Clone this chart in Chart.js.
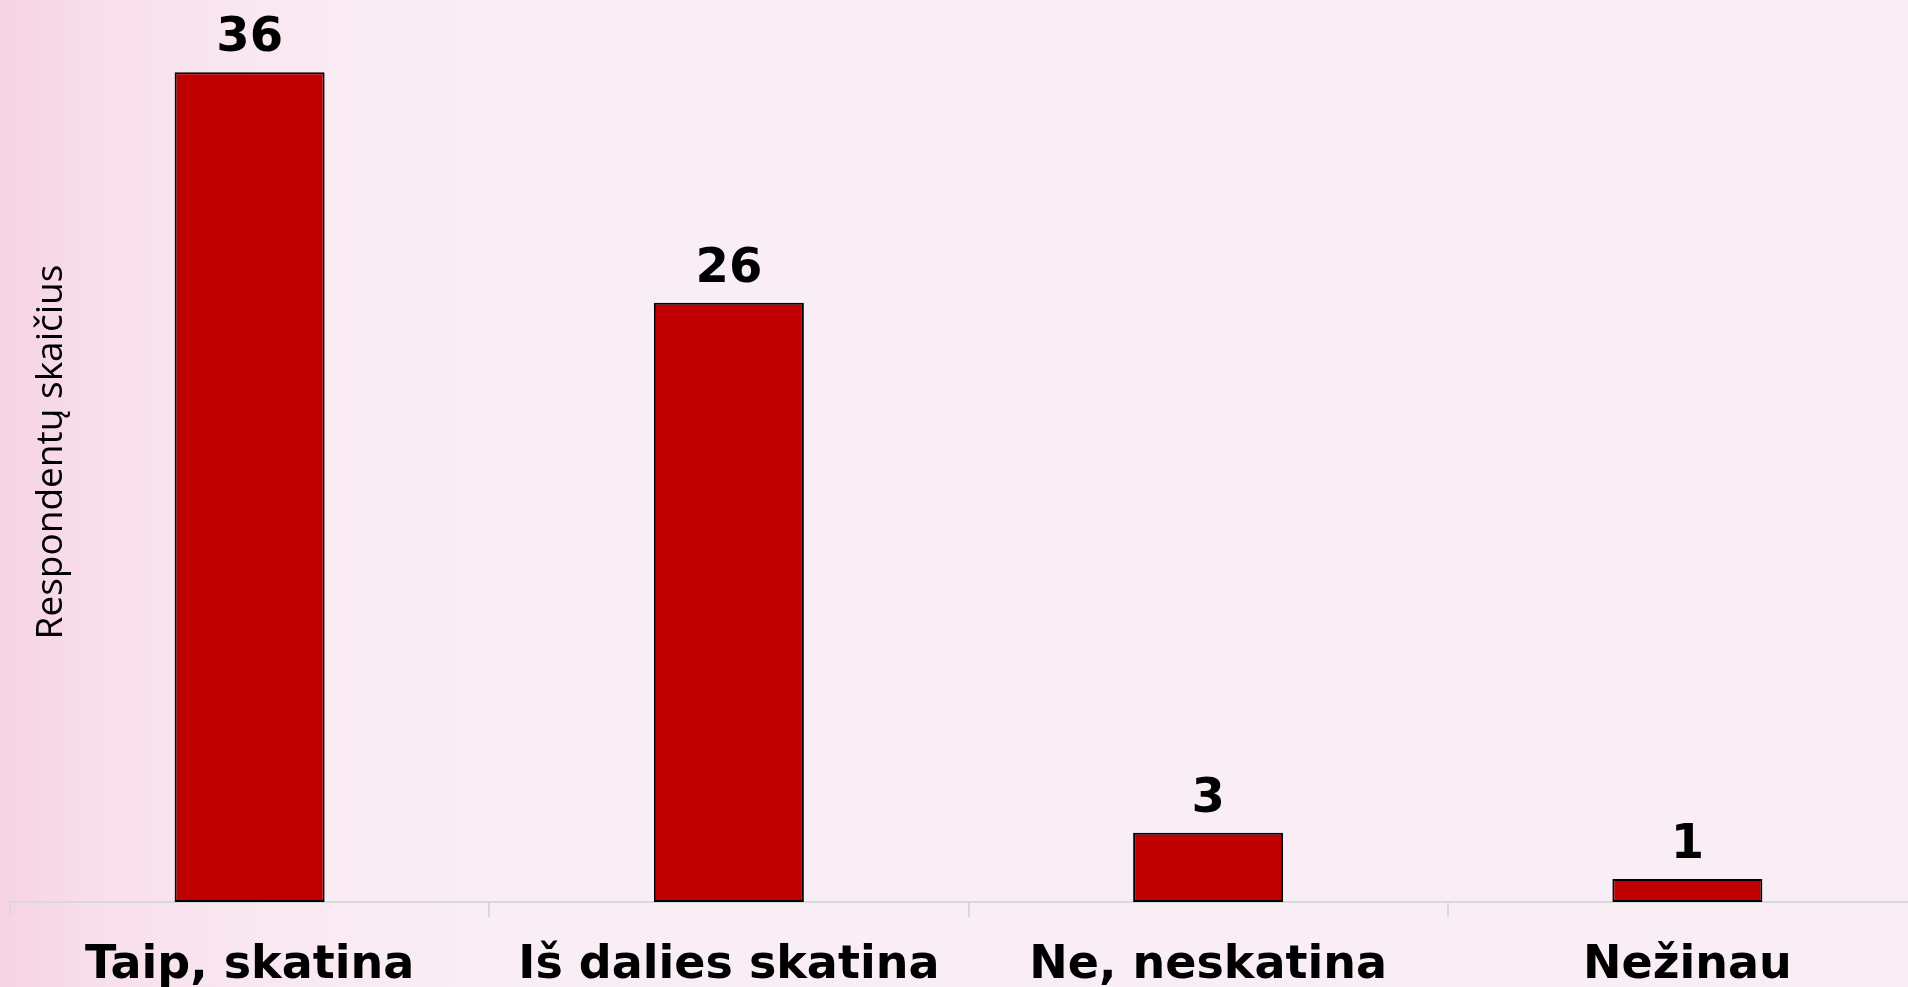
<!DOCTYPE html>
<html>
<head>
<meta charset="utf-8">
<script src="https://cdn.jsdelivr.net/npm/chart.js@4/dist/chart.umd.min.js"></script>
<style>
  html, body { margin: 0; padding: 0; overflow: hidden; }
  body {
    width: 1908px; height: 987px;
    background: linear-gradient(90deg, #f6d3e4 0px, #f8e0ec 110px, #f9e9f2 300px, #f9eef6 480px);
  }
  canvas { display: block; }
</style>
</head>
<body>
<canvas id="chart" width="1927" height="987"></canvas>
<script>
const categories = ["Taip, skatina", "Iš dalies skatina", "Ne, neskatina", "Nežinau"];
const respondents = [36, 26, 3, 1];
const yTitle = "Respondentų skaičius";

// value labels above bars + rotated y title
const extraText = {
    id: 'extraText',
    afterDatasetsDraw(chart) {
        const ctx = chart.ctx;
        ctx.save();
        ctx.fillStyle = '#000';
        ctx.textAlign = 'center';
        ctx.textBaseline = 'alphabetic';
        ctx.font = 'bold 48px "DejaVu Sans"';
        chart.getDatasetMeta(0).data.forEach((bar, i) => {
            ctx.fillText(respondents[i], bar.x, bar.y - 21);
        });
        ctx.translate(62, 452);
        ctx.rotate(-Math.PI / 2);
        ctx.font = '37px "Open Sans"';
        ctx.fillText(yTitle, 0, 0);
        ctx.restore();
    }
};

new Chart(document.getElementById('chart'), {
    type: 'bar',
    data: {
        labels: categories,
        datasets: [
            { label: yTitle,
              data: respondents,
              backgroundColor: '#c00000',
              borderColor: '#000',
              borderWidth: 2,
              borderSkipped: false,
              barPercentage: 0.313,
              categoryPercentage: 1
            }
        ]
    },
    options: {
        responsive: false,
        animation: false,
        layout: {
            padding: { left: 10, top: 3, right: 0, bottom: 0 }
        },
        plugins: {
            legend: { display: false },
            tooltip: { enabled: false }
        },
        scales: {
            x: {
                afterFit: (scale) => { scale.height = 85; },
                grid: {
                    drawOnChartArea: false,
                    drawTicks: true,
                    tickLength: 15,
                    color: '#d9d9d9',
                    lineWidth: 2
                },
                border: { color: '#d9d9d9', width: 2 },
                ticks: {
                    color: '#000',
                    padding: 21,
                    font: { family: '"DejaVu Sans"', size: 46, weight: 'bold' }
                }
            },
            y: {
                display: false,
                min: 0,
                max: 39
            }
        }
    },
    plugins: [extraText]
});
</script>
</body>
</html>
